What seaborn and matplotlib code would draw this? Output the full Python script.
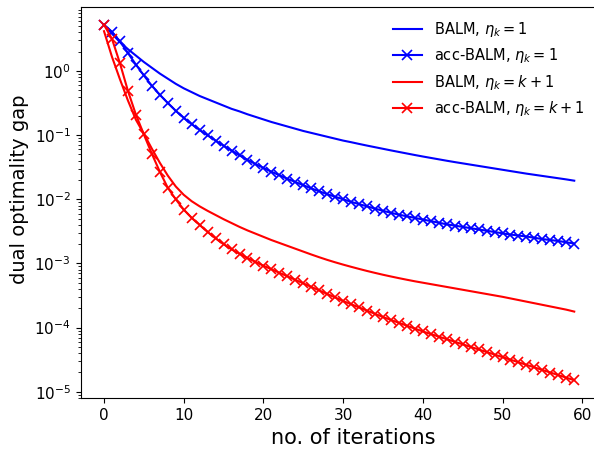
import numpy as np
import pandas as pd
import matplotlib
matplotlib.use("Agg")
import matplotlib.pyplot as plt
import seaborn as sns

# iteration index k
iterations = list(range(60))

# log10 of the dual optimality gap
balm_eta1 = [
    0.72, 0.58, 0.45, 0.34, 0.24, 0.14, 0.05, -0.04, -0.12, -0.20,
    -0.27, -0.33, -0.39, -0.44, -0.49, -0.54, -0.59, -0.63, -0.675, -0.715,
    -0.755, -0.795, -0.83, -0.865, -0.90, -0.935, -0.965, -0.995, -1.025, -1.055,
    -1.085, -1.11, -1.137, -1.163, -1.188, -1.213, -1.238, -1.262, -1.286, -1.31,
    -1.333, -1.355, -1.377, -1.399, -1.42, -1.44, -1.46, -1.48, -1.50, -1.52,
    -1.54, -1.56, -1.58, -1.60, -1.618, -1.636, -1.654, -1.672, -1.69, -1.71]

acc_balm_eta1 = [
    0.72, 0.61, 0.46, 0.28, 0.10, -0.07, -0.23, -0.37, -0.50, -0.62,
    -0.73, -0.83, -0.92, -1.005, -1.085, -1.165, -1.24, -1.315, -1.385, -1.45,
    -1.51, -1.57, -1.625, -1.68, -1.73, -1.78, -1.83, -1.875, -1.92, -1.96,
    -2.00, -2.04, -2.075, -2.11, -2.145, -2.18, -2.21, -2.24, -2.265, -2.29,
    -2.315, -2.34, -2.365, -2.39, -2.41, -2.43, -2.45, -2.47, -2.49, -2.51,
    -2.53, -2.55, -2.565, -2.58, -2.60, -2.62, -2.635, -2.65, -2.67, -2.69]

balm_etak = [
    0.62, 0.22, -0.13, -0.46, -0.76, -0.98, -1.21, -1.43, -1.63, -1.80,
    -1.93, -2.03, -2.11, -2.18, -2.245, -2.31, -2.37, -2.43, -2.485, -2.535,
    -2.585, -2.635, -2.68, -2.725, -2.77, -2.815, -2.86, -2.903, -2.944, -2.982,
    -3.018, -3.052, -3.085, -3.117, -3.147, -3.176, -3.203, -3.229, -3.254, -3.278,
    -3.30, -3.322, -3.344, -3.366, -3.388, -3.41, -3.432, -3.454, -3.476, -3.498,
    -3.52, -3.545, -3.57, -3.595, -3.62, -3.645, -3.67, -3.695, -3.72, -3.75]

acc_balm_etak = [
    0.72, 0.50, 0.12, -0.31, -0.68, -0.99, -1.29, -1.57, -1.82, -2.00,
    -2.16, -2.29, -2.40, -2.51, -2.61, -2.70, -2.78, -2.85, -2.915, -2.975,
    -3.035, -3.09, -3.145, -3.20, -3.255, -3.31, -3.365, -3.42, -3.475, -3.53,
    -3.585, -3.635, -3.685, -3.735, -3.785, -3.835, -3.88, -3.925, -3.97, -4.015,
    -4.06, -4.10, -4.14, -4.18, -4.22, -4.26, -4.30, -4.34, -4.38, -4.42,
    -4.46, -4.50, -4.54, -4.58, -4.62, -4.66, -4.70, -4.74, -4.78, -4.82]

series = [
    (balm_eta1, r"BALM, $\eta_k = 1$", "blue", None),
    (acc_balm_eta1, r"acc-BALM, $\eta_k = 1$", "blue", "x"),
    (balm_etak, r"BALM, $\eta_k = k+1$", "red", None),
    (acc_balm_etak, r"acc-BALM, $\eta_k = k+1$", "red", "x"),
]

W, H = 594, 455
fig = plt.figure(figsize=(W / 100, H / 100), dpi=100)
# the plotting area runs on past the right edge of the picture
ax = fig.add_axes([80.5 / W, 1 - 398 / H, 560 / W, (398 - 7) / H])

for vals, lab, col, mk in series:
    df = pd.DataFrame({"k": iterations, "gap": 10 ** np.array(vals)})
    kw = {}
    if mk is not None:
        kw = dict(marker=mk, markeredgecolor=col, markeredgewidth=1.2, markersize=6.5)
    sns.lineplot(data=df, x="k", y="gap", ax=ax, color=col, linewidth=1.5,
                 label=lab, estimator=None, **kw)

ax.set_yscale("log")
ax.set_xlim(-2.95, -2.95 + 560 / 7.97)
ax.set_xticks([0, 10, 20, 30, 40, 50, 60])
ax.set_xlabel("no. of iterations", fontsize=15, x=(353 - 80.5) / 560)
ax.set_ylabel("dual optimality gap", fontsize=14, y=0.534)
ax.tick_params(labelsize=11)
ax.legend(loc="upper right", frameon=False, fontsize=10.5,
          bbox_to_anchor=(597 / W, 1 - 7 / H), bbox_transform=fig.transFigure)

fig.savefig("out.png", dpi=100)
